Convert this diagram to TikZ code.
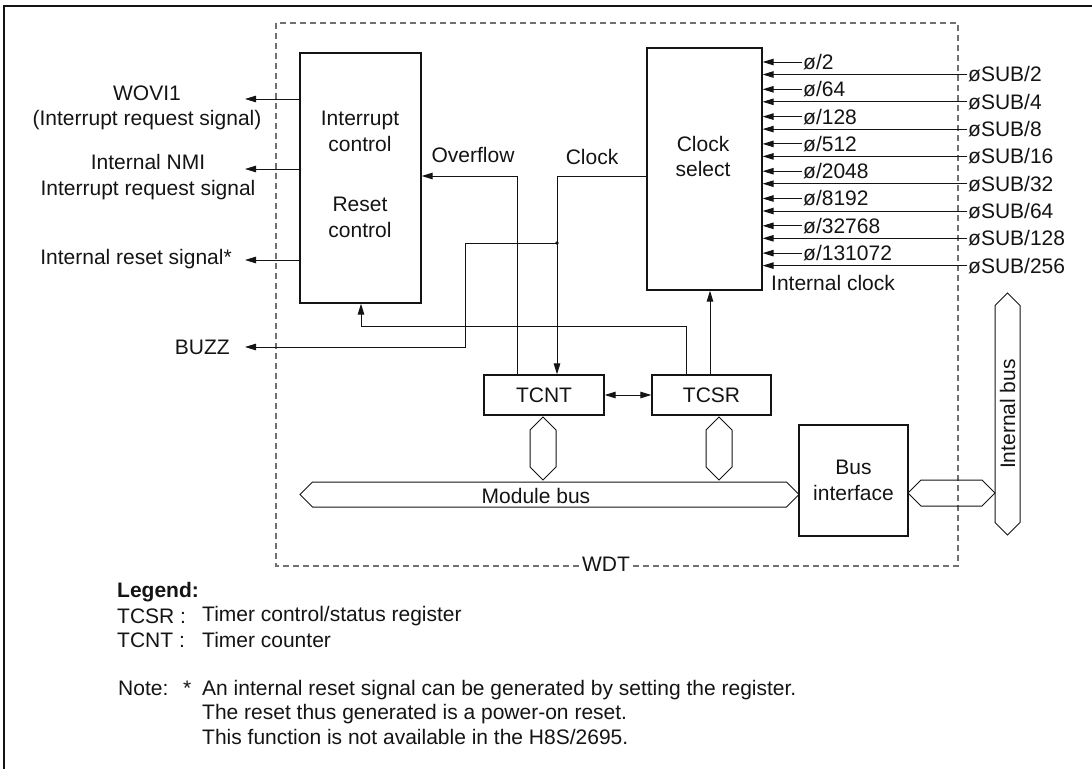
\documentclass[tikz,border=0pt]{standalone}
\usepackage{fontspec}
\setmainfont{Liberation Sans}
\usepackage{xcolor}
\usepackage{tikz}
\usetikzlibrary{arrows.meta,shapes.arrows}
\definecolor{ink}{HTML}{141414}
\definecolor{frame}{HTML}{707070}

\begin{document}
\begin{tikzpicture}[x=1pt,y=-1pt,
  every node/.style={font=\fontsize{21}{25.4}\selectfont,text=ink,inner sep=0pt},
  blk/.style={draw=ink,line width=1.3pt},
  sig/.style={draw=ink,line width=1pt,-{Triangle[length=11pt,width=6.5pt]}},
  sigb/.style={draw=ink,line width=1pt,{Triangle[length=11pt,width=6.5pt]}-{Triangle[length=11pt,width=6.5pt]}},
  bus/.style={draw=ink,line width=1pt,double arrow,double arrow head extend=0pt,double arrow tip angle=90},
  wdtline/.style={draw=frame,line width=1.2pt,dash pattern=on 6pt off 4pt}]
\useasboundingbox (0,0) rectangle (1092,769);
\draw[ink,line width=1.3pt] (4,769) -- (4,6) -- (1092,6);
\draw[wdtline] (276,23) rectangle (958,566);
\node[fill=white,inner sep=2pt] (wdt) at (606,564) {WDT};

\node[blk,minimum width=121pt,minimum height=250pt] (irc) at (360.5,178) {};
\node[align=center] (irctop) at (360,131.5) {Interrupt\\control};
\node[align=center] (ircbot) at (360,217.5) {Reset\\control};
\node[blk,minimum width=115pt,minimum height=242pt] (csel) at (704.5,169) {};
\node[align=center] (cseltxt) at (703,156.5) {Clock\\select};
\node[blk,minimum width=120pt,minimum height=40pt] (tcnt) at (544,395) {TCNT};
\node[blk,minimum width=119pt,minimum height=40pt] (tcsr) at (711.5,395) {TCSR};
\node[blk,minimum width=109pt,minimum height=111pt,align=center] (busif) at (853.5,480.5) {Bus\\interface};

\node[bus,minimum height=499pt,minimum width=25pt] (mbus) at (549.5,494.5) {};
\node (mbustxt) at (536,496) {Module bus};
\node[bus,minimum height=87pt,minimum width=26pt] (ibconn) at (951.5,493) {};
\node[bus,rotate=90,minimum height=242pt,minimum width=25pt] (ibus) at (1007.5,414) {Internal bus};
\node[bus,rotate=90,minimum height=63pt,minimum width=26pt] (cnthex) at (543,448.5) {};
\node[bus,rotate=90,minimum height=63pt,minimum width=26pt] (csrhex) at (719,448.5) {};

\coordinate (wovi) at (245,99);
\coordinate (nmi) at (245,169);
\coordinate (rst) at (245,260);
\coordinate (buzz) at (245,347);
\draw[sig] (irc.west |- wovi) -- (wovi);
\draw[sig] (irc.west |- nmi) -- (nmi);
\draw[sig] (irc.west |- rst) -- (rst);
\node[align=center] (wovitxt) at (147,108) {WOVI1\\(Interrupt request signal)};
\node[align=center] (nmitxt) at (148,177) {Internal NMI\\Interrupt request signal};
\node[anchor=east] (rsttxt) at (232,259) {Internal reset signal*};
\node[anchor=east] (buzztxt) at (230,347) {BUZZ};

\foreach \i/\ph/\sub in {0/2/2,1/64/4,2/128/8,3/512/16,4/2048/32,5/8192/64,6/32768/128,7/131072/256}{
  \node[anchor=west,inner sep=1pt] (ph\i) at (802,{62+27.3*\i}) {ø/\ph};
  \node[anchor=west,inner sep=1pt] (sub\i) at (967,{74.5+27.3*\i}) {øSUB/\sub};
  \draw[sig] (ph\i.west) -- (csel.east |- ph\i.west);
  \draw[sig] (sub\i.west) -- (csel.east |- sub\i.west);
}
\node[anchor=west] (intclk) at (771,283) {Internal clock};

\draw[sig] (tcnt.north -| 517,0) |- (irc.east |- 0,176);
\node (ovf) at (473,155) {Overflow};
\draw[sig] (csel.west |- 0,176) -| (tcnt.north -| 557,0);
\node (clk) at (592,157) {Clock};
\coordinate (jn) at (557,243);
\fill[ink] (jn) circle (1.8pt);
\draw[sig] (jn) -- (465,243) -- (465,347) -- (buzz);
\draw[sig] (tcsr.north -| 686,0) |- (361,326) -- (irc.south -| 361,0);
\draw[sig] (tcsr.north -| 710,0) -- (csel.south -| 710,0);
\draw[sigb] (tcnt) -- (tcsr);

\node[anchor=west,font=\fontsize{21}{25.4}\selectfont\bfseries] (lgd) at (117,592) {Legend:};
\node[anchor=west] (lgcsr) at (117,616) {TCSR :};
\node[anchor=west] (lgcsrv) at (202,616) {Timer control/status register};
\node[anchor=west] (lgcnt) at (117,640) {TCNT :};
\node[anchor=west] (lgcntv) at (202,640) {Timer counter};
\node[anchor=west] (note) at (118,688) {Note:};
\node[anchor=west] (ast) at (183,688) {*};
\node[anchor=west,align=left,font=\fontsize{21}{24.5}\selectfont] (notetxt) at (202,712) {An internal reset signal can be generated by setting the register.\\The reset thus generated is a power-on reset.\\This function is not available in the H8S/2695.};
\end{tikzpicture}
\end{document}
